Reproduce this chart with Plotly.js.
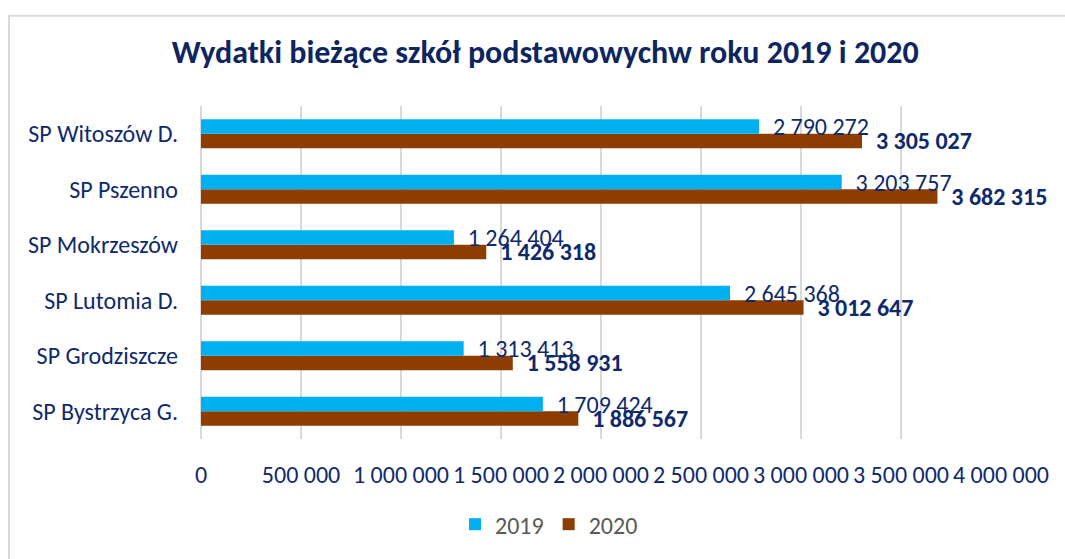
<!DOCTYPE html>
<html>
<head>
<meta charset="utf-8">
<script src="https://cdn.plot.ly/plotly-3.0.1.min.js"></script>
<style>
    html, body {margin: 0; padding: 0; background: #ffffff;}
    #chart {width: 1065px; height: 559px;}
</style>
</head>
<body>
<div id="chart"></div>
<script>
const schools = ["SP Bystrzyca G.", "SP Grodziszcze", "SP Lutomia D.", "SP Mokrzeszów", "SP Pszenno", "SP Witoszów D."];
const spend2019 = [1709424, 1313413, 2645368, 1264404, 3203757, 2790272];
const spend2020 = [1886567, 1558931, 3012647, 1426318, 3682315, 3305027];
const xTicks = [0, 500000, 1000000, 1500000, 2000000, 2500000, 3000000, 3500000, 4000000];

const navy = "#0F2A6B";
const font = "Carlito, 'Open Sans', sans-serif";

const traces = [
    {
        y: schools, x: spend2020, type: "bar", orientation: "h", name: "2020",
        marker: {color: "#8E3D00"},
        texttemplate: "\u00a0\u00a0<b>%{x:,d}</b>",
        textposition: "outside", constraintext: "none", cliponaxis: false,
        textfont: {family: font, size: 24, color: navy},
        hoverinfo: "x+y"
    },
    {
        y: schools, x: spend2019, type: "bar", orientation: "h", name: "2019",
        marker: {color: "#00B0F0"},
        texttemplate: "\u00a0\u00a0%{x:,d}",
        textposition: "outside", constraintext: "none", cliponaxis: false,
        textfont: {family: font, size: 24, color: navy},
        hoverinfo: "x+y"
    }
];

const layout = {
    width: 1065,
    height: 559,
    margin: {t: 106, r: 64, b: 115, l: 201},
    paper_bgcolor: "#ffffff",
    plot_bgcolor: "#ffffff",
    separators: ", ",
    font: {family: font, color: navy, size: 24},
    title: {
        text: "<b>Wydatki bieżące szkół podstawowychw roku 2019 i 2020</b>",
        font: {family: font, size: 32, color: "#0D2560"},
        x: 0.512, xanchor: "center",
        y: 0.907, yanchor: "middle"
    },
    barmode: "group",
    bargap: 0.48,
    bargroupgap: 0,
    xaxis: {
        range: [0, 4000000],
        tickvals: xTicks,
        tickformat: ",d",
        showgrid: true,
        gridcolor: "#D9D9D9",
        gridwidth: 2,
        zeroline: true,
        zerolinecolor: "#D9D9D9",
        zerolinewidth: 2,
        showline: false,
        ticks: "",
        ticklabelstandoff: 19,
        tickfont: {family: font, size: 24, color: navy}
    },
    yaxis: {
        type: "category",
        showgrid: false,
        zeroline: false,
        showline: false,
        ticks: "",
        ticklabelstandoff: 22,
        tickfont: {family: font, size: 24, color: navy}
    },
    showlegend: true,
    legend: {
        orientation: "h",
        traceorder: "reversed",
        x: 0.435, xanchor: "center",
        y: -0.257, yanchor: "middle",
        font: {family: font, size: 24, color: "#595959"},
        itemwidth: 30
    },
    shapes: [
        {
            type: "rect", xref: "paper", yref: "paper",
            x0: -0.24, x1: 1.2, y0: -0.6, y1: 1.271,
            line: {color: "#D9D9D9", width: 2},
            fillcolor: "rgba(0,0,0,0)",
            layer: "below"
        }
    ]
};

Plotly.newPlot("chart", traces, layout, {displayModeBar: false, responsive: false});
</script>
</body>
</html>
